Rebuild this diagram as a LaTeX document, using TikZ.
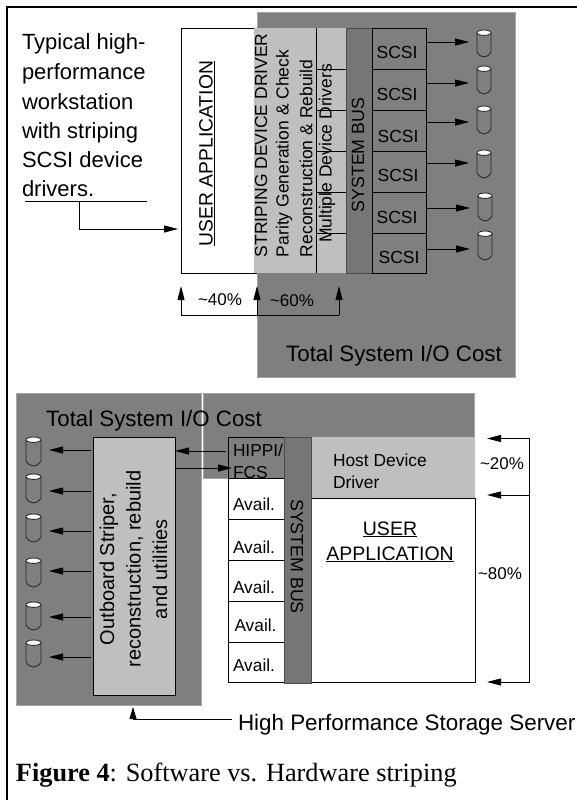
\documentclass[tikz,border=0pt]{standalone}
\usepackage{fontspec}
\setmainfont{Liberation Sans}
\newfontfamily\capfont{Liberation Serif}
\usetikzlibrary{arrows.meta,calc}
\definecolor{dk}{HTML}{7F7F7F}
\definecolor{bs}{HTML}{767676}
\definecolor{lt}{HTML}{BFBFBF}
\definecolor{ed}{HTML}{A6A6A6}
\newcommand\fsz[1]{\fontsize{#1}{#1}\selectfont}
% \bx{name}{x0}{y0}{x1}{y1}{style}
\newcommand\bx[6]{%
  \pgfmathsetmacro\bxw{#4-#2}\pgfmathsetmacro\bxh{#5-#3}%
  \node[rectangle,inner sep=0pt,outer sep=0pt,minimum width=\bxw pt,minimum height=\bxh pt,#6] (#1) at ({(#2+#4)/2},{(#3+#5)/2}) {};}
% \disk{name}{x0}{y0}{x1}{y1}
\newcommand\disk[5]{%
  \bx{#1}{#2}{#3}{#4}{#5}{}
  \draw[diskline] (#2,{#3+3}) -- (#2,{#5-5}) .. controls ({#2+2},{#5-1.5}) and ({#2+5},#5) .. ({(#2+#4)/2},#5) .. controls ({#4-5},#5) and ({#4-2},{#5-1.5}) .. (#4,{#5-5}) -- (#4,{#3+3});
  \draw[diskline,fill=white] ({(#2+#4)/2},{#3+2.7}) ellipse ({(#4-#2)/2} and 2.7);}
\tikzset{
  diskline/.style={draw=black!85,line width=0.85pt},
  conn/.style={draw=black,line width=0.9pt},
  arr/.style={conn,-{Triangle[length=14pt,width=7pt]}},
  darkbg/.style={fill=dk,draw=ed,line width=0.7pt},
  busbox/.style={fill=bs,draw=black!70,line width=0.8pt},
  portbox/.style={draw=black,line width=0.9pt},
  availbox/.style={draw=black,fill=white,line width=0.9pt},
  litebox/.style={fill=lt},
  lab/.style={inner sep=0pt,outer sep=0pt,text=black},
  bar/.style={draw=black,line width=0.9pt},
}
\begin{document}
\begin{tikzpicture}[x=1pt,y=-1pt]
\useasboundingbox (0,0) rectangle (577,800);
\fill[white] (0,0) rectangle (577,800);
\coordinate (fa) at (7,800); \coordinate (fb) at (7,7); \coordinate (fc) at (577,7);
\draw[black,line width=2pt] (fa) -- (fb) -- (fc);

% ---------- top diagram
\bx{topbg}{257}{12}{515}{377}{darkbg}
\bx{app}{181}{28}{256}{273}{draw=black,fill=white,line width=0.9pt}
\bx{strip}{254}{28}{316}{273}{litebox}
\bx{multi}{316}{28}{346}{273}{litebox}
\draw[bar] (multi.north west) -- (multi.south west);
\bx{bus}{346}{28}{372}{273}{busbox}
\bx{s1}{372}{28}{426}{69}{portbox}
\bx{s2}{372}{69}{426}{110}{portbox}
\bx{s3}{372}{110}{426}{151}{portbox}
\bx{s4}{372}{151}{426}{192}{portbox}
\bx{s5}{372}{192}{426}{233}{portbox}
\bx{s6}{372}{233}{426}{273}{portbox}
\foreach \n/\x/\y in {s1/397/52,s2/397/94,s3/398/136,s4/398/175,s5/397/217,s6/399/257}
  \node[lab,font=\fsz{17.5}] at (\x,\y) {SCSI};

\foreach \n in {s1,s2,s3,s4,s5}
  \draw[bar] (multi.east |- \n.south) -- ++(-29,0);

\node[lab,font=\fsz{19.3},rotate=90] (tapp) at (207,153.5) {\underline{USER APPLICATION}};
\node[lab,font=\fsz{17.5},rotate=90,anchor=west] (t1) at (261,257) {STRIPING DEVICE DRIVER};
\node[lab,font=\fsz{17.5},rotate=90,anchor=west] (t2) at (284,257) {Parity Generation \& Check};
\node[lab,font=\fsz{17.5},rotate=90,anchor=west] (t3) at (306,257) {Reconstruction \& Rebuild};
\node[lab,font=\fsz{17.5},rotate=90] (t4) at (327,153.5) {Multiple Device Drivers};
\node[lab,font=\fsz{17.8},rotate=90] (t5) at (358,155) {SYSTEM BUS};

\disk{d1}{477}{30}{491}{57}
\disk{d2}{477}{66}{491}{94}
\disk{d3}{477}{106}{491}{134}
\disk{d4}{477}{150}{491}{178}
\disk{d5}{478}{193}{492}{221}
\disk{d6}{478}{231}{492}{260}
\foreach \n/\y in {1/42,2/83,3/122,4/163,5/208,6/249}{
  \coordinate (de\n) at (d\n.west |- 0,\y);
  \draw[arr,shorten >=8pt] (s\n.east |- 0,\y) -- (de\n);
}

% note text
\node[lab,font=\fsz{22},anchor=base west] (n1) at (22,50) {Typical high-};
\node[lab,font=\fsz{22},anchor=base west] (n2) at (22,79) {performance};
\node[lab,font=\fsz{22},anchor=base west] (n3) at (22,109) {workstation};
\node[lab,font=\fsz{22},anchor=base west] (n4) at (22,138) {with striping};
\node[lab,font=\fsz{22},anchor=base west] (n5) at (22,167) {SCSI device};
\node[lab,font=\fsz{22},anchor=base west] (n6) at (22,196) {drivers.};
\coordinate (ula) at (25,201.5); \coordinate (ulb) at (147,201.5); \coordinate (ulc) at (79,201.5); \coordinate (uld) at (79,229);
\coordinate (ule) at (178,229);
\draw[conn] (ula) -- (ulb);
\draw[arr] (ulc) -- (uld) -- (ule);

% percent bracket
\coordinate (b1) at (181,315); \coordinate (b2) at (257,315); \coordinate (b3) at (339,315);
\coordinate (u1) at (181,286); \coordinate (u2) at (257,286); \coordinate (u3) at (339,286);
\draw[conn] (b1) -- (b3);
\draw[arr] (b1) -- (u1);
\draw[arr] (b2) -- (u2);
\draw[arr] (b3) -- (u3);
\node[lab,font=\fsz{17}] (p40) at (220,300) {\textasciitilde40\%};
\node[lab,font=\fsz{17}] (p60) at (292,301) {\textasciitilde60\%};
\node[lab,font=\fsz{22.3},anchor=base] (tc1) at (394,361) {Total System I/O Cost};

% ---------- bottom diagram
\bx{lbg}{16}{393}{201}{705}{darkbg}
\bx{rbg}{203}{393}{474}{478}{darkbg}
\node[lab,font=\fsz{22.3},anchor=base] (tc2) at (154,426) {Total System I/O Cost};
\bx{out}{93}{437}{175}{695.5}{fill=lt,draw=black,line width=0.8pt}
\node[lab,font=\fsz{20},rotate=90,align=center] (tout) at (133.5,569) {Outboard Striper,\\[6.5pt]reconstruction, rebuild\\[6.5pt]and utilities};

\bx{hip}{228}{437}{284}{478}{fill=dk,draw=black,line width=0.9pt}
\bx{a1}{228}{478}{284}{519}{availbox}
\bx{a2}{228}{519}{284}{560}{availbox}
\bx{a3}{228}{560}{284}{601}{availbox}
\bx{a4}{228}{601}{284}{642}{availbox}
\bx{a5}{228}{642}{284}{682}{availbox}
\node[lab,font=\fsz{17.3},anchor=base] at (254,510) {Avail.};
\node[lab,font=\fsz{17.3},anchor=base] at (254,553) {Avail.};
\node[lab,font=\fsz{17.3},anchor=base] at (254,593) {Avail.};
\node[lab,font=\fsz{17.3},anchor=base] at (255.5,631) {Avail.};
\node[lab,font=\fsz{17.3},anchor=base] at (254,671) {Avail.};
\node[lab,font=\fsz{17.3},anchor=base west] (th1) at (233,456) {HIPPI/};
\node[lab,font=\fsz{17.3},anchor=base west] (th2) at (233,478) {FCS};
\fill[white] (228.5,478.5) rectangle (283.5,479.2);

\bx{drv}{311}{437}{475}{498}{litebox}
\bx{uapp}{311}{498}{475}{682}{draw=black,fill=white,line width=0.9pt}
\bx{bus2}{284}{437}{311}{683}{busbox}
\node[lab,font=\fsz{17.8},rotate=-90] (tb2) at (297,556.5) {SYSTEM BUS};
\node[lab,font=\fsz{17.4},anchor=base west] (td1) at (333,466) {Host Device};
\node[lab,font=\fsz{17.4},anchor=base west] (td2) at (333,488) {Driver};
\node[lab,font=\fsz{19.5},anchor=base] (tu1) at (390,535) {\underline{USER}};
\node[lab,font=\fsz{19.5},anchor=base] (tu2) at (390,560) {\underline{APPLICATION}};

% disks bottom
\disk{e1}{26}{437}{41}{466}
\disk{e2}{26}{474}{41}{503}
\disk{e3}{26}{514}{41}{542}
\disk{e4}{26}{558}{41}{587}
\disk{e5}{26}{602}{41}{630}
\disk{e6}{26}{640}{41}{667}
\foreach \n/\y in {1/450,2/491,3/531,4/571,5/617,6/657}{
  \coordinate (eo\n) at ([xshift=-2pt]out.west |- 0,\y);
  \coordinate (ee\n) at (49,\y);
  \draw[arr] (eo\n) -- (ee\n);
}
\coordinate (ha) at (226,451); \coordinate (hb) at (232,468);
\draw[arr] (ha) -- (out.east |- ha);
\draw[arr] (out.east |- hb) -- (hb);

% bracket right
\coordinate (ra) at (529.5,438.5); \coordinate (rb) at (529.5,495); \coordinate (rc) at (529.5,682);
\coordinate (la) at (487,438.5); \coordinate (lb) at (487,495); \coordinate (lc) at (487,682);
\draw[conn] (ra) -- (rc);
\draw[arr] (ra) -- (la);
\draw[arr] (rb) -- (lb);
\draw[arr] (rc) -- (lc);
\node[lab,font=\fsz{17}] (p20) at (502,463.5) {\textasciitilde20\%};
\node[lab,font=\fsz{17}] (p80) at (500,573.5) {\textasciitilde80\%};

% server label
\node[lab,font=\fsz{22.4},anchor=base west] (srv) at (238,730) {High Performance Storage Server};
\coordinate (sc) at (133,719.5); \coordinate (sd) at (133,707);
\draw[conn] (srv.west |- sc) ++(-6,0) -- (sc);
\draw[-{Triangle[length=12pt,width=7pt]},conn] (133,720) -- (sd);

% caption
\node[lab,font=\capfont\fsz{26.3},anchor=base west] (cap) at (16,781) {\textbf{Figure 4}: Software vs. Hardware striping};
\end{tikzpicture}
\end{document}
